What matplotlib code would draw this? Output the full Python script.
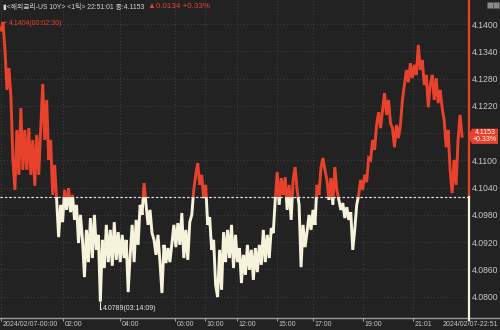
import matplotlib
matplotlib.use("Agg")
import matplotlib.pyplot as plt
import matplotlib.transforms as mtransforms
from matplotlib.patches import Rectangle, Polygon
from matplotlib.lines import Line2D
import numpy as np

# ---------------- data ----------------
prices = [
    4.1387, 4.1404, 4.1343, 4.1255, 4.1303, 4.1239, 4.1101, 4.1035, 4.1167, 4.1068,
    4.1215, 4.1079, 4.1167, 4.1079, 4.1171, 4.1068, 4.1145, 4.1044, 4.1156, 4.1068,
    4.1171, 4.1268, 4.1145, 4.1233, 4.1101, 4.1145, 4.1024, 4.1090, 4.1013,
    4.0931, 4.1002, 4.0964, 4.1035, 4.0991, 4.1039, 4.0986, 4.1024, 4.0969, 4.1002,
    4.0918, 4.0980, 4.0925, 4.0843, 4.0947, 4.0876, 4.0973, 4.0885, 4.0980, 4.0903,
    4.0936, 4.0789, 4.0925, 4.0863, 4.0958, 4.0876, 4.0947, 4.0868, 4.0964, 4.0881,
    4.0942,
    4.0876, 4.0936, 4.0885, 4.0925, 4.0810, 4.0892, 4.0958, 4.0876, 4.0969, 4.0914,
    4.1002, 4.0980, 4.1050, 4.1002, 4.0958, 4.0991, 4.0940, 4.0925, 4.0892, 4.0936,
    4.0876, 4.0808, 4.0914, 4.0874, 4.0907, 4.0876, 4.0918, 4.0958, 4.0909, 4.0962,
    4.0914, 4.0984, 4.0885, 4.0947, 4.0881, 4.0964, 4.0980, 4.1035, 4.1068, 4.1094,
    4.1046,
    4.1068, 4.1017, 4.1046, 4.0958, 4.0975, 4.0903, 4.0925, 4.0826, 4.0799, 4.0903,
    4.0815, 4.0942, 4.0876, 4.0947, 4.0885, 4.0958, 4.0863, 4.0936, 4.0876, 4.0907,
    4.0830, 4.0892, 4.0848, 4.0914, 4.0859, 4.0903, 4.0837, 4.0907, 4.0854, 4.0914,
    4.0870, 4.0947, 4.0876, 4.0936, 4.0885, 4.0951, 4.0940, 4.1013, 4.1074, 4.1002,
    4.1061, 4.1024, 4.1063, 4.0991, 4.1046, 4.0969, 4.1057, 4.1085, 4.1035, 4.1002,
    4.0865, 4.0958, 4.0909, 4.0942, 4.0980, 4.0947, 4.0991, 4.0958, 4.1046, 4.1024,
    4.1083, 4.1105, 4.1079, 4.1057, 4.1013, 4.1061, 4.1002, 4.1085, 4.1035, 4.1013,
    4.0991, 4.1006, 4.0973, 4.0997, 4.0969, 4.0986, 4.0903, 4.0947, 4.1002, 4.1024,
    4.1057, 4.1035, 4.1068, 4.1052, 4.1105, 4.1101, 4.1145, 4.1123, 4.1178, 4.1206,
    4.1171, 4.1211, 4.1248, 4.1200, 4.1233, 4.1182, 4.1171, 4.1129, 4.1178, 4.1149,
    4.1178, 4.1233, 4.1266, 4.1299, 4.1272, 4.1314, 4.1281, 4.1310, 4.1288, 4.1354,
    4.1299, 4.1321, 4.1266, 4.1288, 4.1217, 4.1266, 4.1288, 4.1233, 4.1281, 4.1226,
    4.1255, 4.1215, 4.1189, 4.1129, 4.1167, 4.1079, 4.1028, 4.1101, 4.1046, 4.1145,
    4.1200, 4.1153,
]
prev_close = 4.1019
last_price = 4.1153
change = 0.0134
change_pct = 0.33
high_label = "4.1404(00:02:30)"
low_label = "4.0789(03:14:09)"
y_ticks = [4.0800, 4.0860, 4.0920, 4.0980, 4.1040, 4.1100, 4.1160, 4.1220, 4.1280, 4.1340, 4.1400]
x_tick_idx = [0, 31.2, 59.9, 87.6, 102.7, 118.8, 138.9, 157.0, 182.2, 207.4]
x_tick_labels = ["2024/02/07-00:00", "02:00", "04:00", "06:00", "10:00", "12:00",
                 "15:00", "17:00", "19:00", "21:01"]
last_time_label = "2024/02/07-22:51"
title_main = "▮<해외금리-US 10Y> <1틱> 22:51:01 종:4.1153"
title_change = f"▲{change:.4f} +{change_pct:.2f}%"

# ---------------- style ----------------
BG = "#222222"
RED = "#e8412c"
CREAM = "#f6f3dc"
GRID = "#3e3e3e"
TXT = "#c8c8c8"
NUMFONT = ["Liberation Sans", "DejaVu Sans"]
KFONT = ["Liberation Sans", "Noto Sans CJK KR", "DejaVu Sans"]
plt.rcParams["font.family"] = NUMFONT

W, H = 500, 330
fig = plt.figure(figsize=(W / 100, H / 100), dpi=100)
fig.patch.set_facecolor(BG)
ax = fig.add_axes([0, 12 / H, 468 / W, 318 / H])
ax.set_facecolor(BG)

x = np.arange(len(prices))
ax.set_xlim(-0.5, 235)
ax.set_ylim(4.0753, 4.1453)

# two-colour price line, split at previous close
l_red, = ax.plot(x, prices, color=RED, lw=2.1, solid_joinstyle="miter", zorder=3)
l_cr, = ax.plot(x, prices, color=CREAM, lw=2.1, solid_joinstyle="miter", zorder=3)
l_red.set_clip_path(Rectangle((-10, prev_close), 400, 1, transform=ax.transData))
l_cr.set_clip_path(Rectangle((-10, prev_close - 1), 400, 1, transform=ax.transData))

# previous close reference line
ax.axhline(prev_close, color="#e0e0e0", lw=0.8, ls=(0, (2, 2)), zorder=2)

# grid
ax.set_yticks(y_ticks)
ax.set_xticks(x_tick_idx)
ax.grid(True, color=GRID, ls=(0, (1, 2)), lw=0.8, zorder=0)

# y tick labels on the right (label under the price box is hidden)
ax.yaxis.tick_right()
ax.set_yticklabels(["" if abs(v - last_price) < 0.0015 else f"{v:.4f}" for v in y_ticks])
ax.tick_params(axis="y", length=0, pad=3, labelsize=6.2, labelcolor=TXT)

# x ticks: marks on axis, labels placed manually (left aligned at tick)
ax.set_xticklabels([""] * len(x_tick_idx))
ax.tick_params(axis="x", length=2.5, width=0.8, color="#a0a0a0", direction="out", pad=0)
bx = mtransforms.blended_transform_factory(ax.transData, fig.transFigure)
for xi, lab in zip(x_tick_idx, x_tick_labels):
    t = ax.text(xi, 5.5 / H, lab, ha="left", va="center", fontsize=5.0,
                color=TXT, clip_on=False)
    t.set_transform(bx + mtransforms.ScaledTranslation(1.5 / 100, 0, fig.dpi_scale_trans))
for s in ["top", "left", "right", "bottom"]:
    ax.spines[s].set_visible(False)

# bottom axis line across the figure
fig.add_artist(Line2D([0, 1], [12 / H, 12 / H], color="#9a9a9a", lw=1.0, transform=fig.transFigure))
fig.text(498 / W, 5.5 / H, last_time_label, ha="right", va="center", fontsize=5.0, color=TXT)

# right edge two-colour line
bt = mtransforms.blended_transform_factory(fig.transFigure, ax.transData)
xr = 468.5 / W
fig.add_artist(Line2D([xr, xr], [prev_close, 4.1453], color=RED, lw=1.6, transform=bt, zorder=4))
fig.add_artist(Line2D([xr, xr], [4.0753 - 0.0005, prev_close], color=CREAM, lw=1.6, transform=bt, zorder=4))
fig.add_artist(Line2D([0, xr], [prev_close, prev_close], color="#e0e0e0", lw=0.8, ls=(0, (2, 2)),
                      transform=bt, zorder=1))

# current price box
hh = 0.00168
box = Polygon([(468 / W, last_price), (472 / W, last_price + hh), (498 / W, last_price + hh),
               (498 / W, last_price - hh), (472 / W, last_price - hh)], closed=True,
              facecolor=RED, edgecolor="none", transform=bt, zorder=5)
fig.add_artist(box)
fig.text(485 / W, 1 - 132 / H, f"{last_price:.4f}", ha="center", va="center", fontsize=5.0,
         color="white", zorder=6)
fig.text(485 / W, 1 - 139.5 / H, f"+{change_pct:.2f}%", ha="center", va="center", fontsize=5.0,
         color="white", zorder=6)

# high / low annotations
i_hi = int(np.argmax(prices))
i_lo = int(np.argmin(prices))
ax.annotate(high_label, xy=(i_hi, prices[i_hi]), xytext=(6, -1), textcoords="offset pixels",
            ha="left", va="center", fontsize=5.0, color=RED, zorder=6,
            arrowprops=dict(arrowstyle="-", color=RED, lw=0.8, shrinkA=0, shrinkB=0))
ax.annotate(low_label, xy=(i_lo, prices[i_lo]), xytext=(3, -7), textcoords="offset pixels",
            ha="left", va="center", fontsize=5.0, color="#e8e8e8", zorder=6,
            annotation_clip=False,
            arrowprops=dict(arrowstyle="-", color="#e8e8e8", lw=0.8, shrinkA=0, shrinkB=0,
                            connectionstyle="angle,angleA=0,angleB=90,rad=0"))

# title
t1 = fig.text(3 / W, 1 - 7 / H, title_main, ha="left", va="center", fontsize=4.9, color="#d8d8d8",
              family=KFONT)
fig.canvas.draw()
bb = t1.get_window_extent()
fig.text((bb.x1 + 4) / W, 1 - 7 / H, title_change, ha="left", va="center", fontsize=5.8, color=RED,
         family=KFONT)

# small window icons at top-right
for x0 in (487, 493):
    fig.add_artist(Rectangle((x0 / W, 1 - 8 / H), 5.5 / W, 6 / H, facecolor="#8a8a8a",
                             edgecolor="#555555", lw=0.5, transform=fig.transFigure))

fig.savefig("out.png", dpi=100, facecolor=BG)
